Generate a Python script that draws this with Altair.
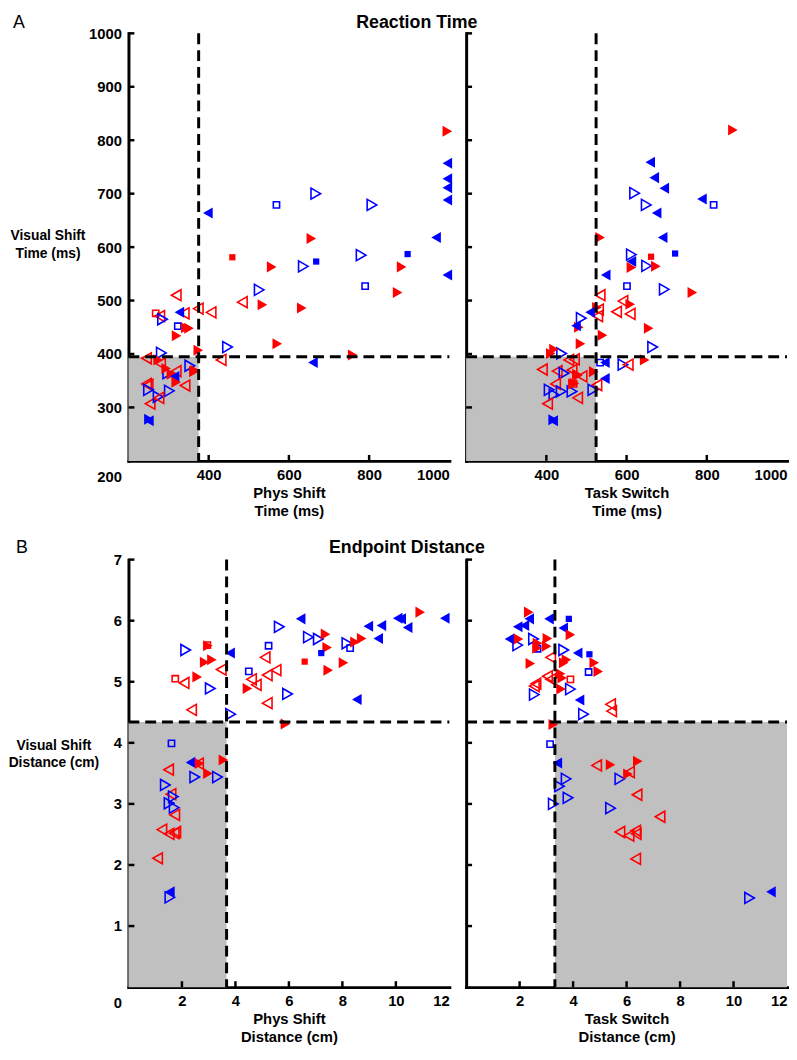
import altair as alt
import pandas as pd

# ---------------- data ----------------
# kind code: colour (R/B), fill (F = filled, O = open), shape (L = left triangle, R = right triangle, S = square)

# Panel A left: Phys Shift Time (x) vs Visual Shift Time (y)
rt_phys_x = [268, 278, 319, 285, 327, 339, 323, 343, 351, 320, 374, 406, 484, 534, 632, 526, 636, 557, 668, 790,
             871, 571, 447, 374, 431, 759, 660, 282, 245, 274, 280, 353, 363, 366, 319, 307, 298, 315, 319, 341,
             245, 249, 250, 302, 254, 274, 276, 251, 251, 398, 569, 667, 807, 656, 967, 896, 780, 881, 459, 995,
             995, 995, 995, 995, 995, 294]
rt_phys_y = [476, 471, 510, 465, 478, 476, 452, 449, 448, 434, 485, 478, 497, 492, 486, 520, 564, 563, 573, 527,
             515, 419, 413, 407, 389, 398, 384, 402, 392, 389, 382, 378, 367, 369, 368, 362, 364, 358, 347, 341,
             344, 342, 333, 331, 307, 320, 318, 275, 278, 664, 679, 700, 679, 616, 618, 587, 585, 563, 581, 817,
             757, 728, 711, 688, 548, 373]
rt_phys_kind = ["ROS", "ROL", "ROL", "BOR", "BFL", "ROL", "BOS", "RFR", "RFR", "RFR", "ROL", "ROL", "ROL", "RFR",
                "RFR", "BOR", "BOR", "RFR", "BFS", "BOS", "RFR", "RFR", "BOR", "RFR", "ROL", "RFR", "BFL", "BOR",
                "ROL", "RFR", "ROL", "BOR", "RFR", "RFR", "ROL", "RFR", "BOR", "BFL", "RFR", "ROL", "ROL", "ROL",
                "BOR", "BOR", "ROL", "BOR", "ROL", "BFL", "BFR", "BFL", "BOS", "BOR", "BOR", "RFR", "BFL", "BFS",
                "BOR", "RFR", "RFS", "RFR", "BFL", "BFL", "BFL", "BFL", "BFL", "RFR"]

# Panel A right: Task Switch Time (x) vs Visual Shift Time (y)
rt_task_x = [865, 659, 669, 694, 620, 649, 788, 817, 675, 534, 690, 612, 661, 721, 612, 612, 650, 673, 548, 601,
             694, 764, 534, 591, 609, 526, 575, 609, 509, 487, 481, 474, 655, 540, 528, 530, 485, 419, 411, 438,
             665, 645, 591, 604, 534, 546, 518, 546, 526, 516, 456, 470, 390, 427, 444, 464, 476, 479, 489, 466,
             470, 423, 407, 419, 437, 464, 478, 403, 417, 417, 468]
rt_task_y = [819, 759, 730, 710, 701, 679, 690, 679, 664, 618, 618, 586, 582, 588, 573, 562, 565, 564, 548, 527,
             521, 515, 510, 499, 493, 487, 479, 475, 478, 467, 450, 453, 448, 435, 471, 483, 419, 409, 401, 401,
             413, 389, 380, 380, 384, 384, 367, 354, 342, 333, 389, 390, 371, 368, 364, 370, 362, 360, 358, 344,
             345, 344, 333, 324, 330, 330, 318, 307, 275, 277, 344]
rt_task_kind = ["RFR", "BFL", "BFL", "BFL", "BOR", "BOR", "BFL", "BOS", "BFL", "RFR", "BFL", "BOR", "RFS", "BFS",
                "BFL", "RFR", "BOR", "RFR", "BFL", "BOS", "BOR", "RFR", "ROL", "ROL", "RFR", "RFR", "ROL", "ROL",
                "BFL", "BOR", "RFR", "BFL", "RFR", "RFR", "ROL", "ROL", "RFR", "RFR", "RFR", "BOR", "BOR", "RFR",
                "BOR", "ROL", "BOS", "BFL", "RFR", "BFL", "ROL", "BOR", "ROL", "ROL", "ROL", "ROL", "BOR", "ROL",
                "RFR", "RFR", "ROL", "RFR", "RFR", "ROL", "BOR", "BOR", "BOR", "BOR", "ROL", "ROL", "BFL", "BFR",
                "ROS"]

# Panel B left: Phys Shift Distance (x) vs Visual Shift Distance (y)
ed_phys_x = [1.75, 2.08, 2.57, 2.14, 2.85, 3.12, 2.97, 2.95, 3.47, 3.06, 2.36, 3.80, 3.82, 4.45, 4.60, 4.50, 4.78,
             5.11, 5.24, 5.19, 5.52, 5.19, 5.64, 5.95, 5.87, 6.44, 6.73, 7.10, 7.37, 7.43, 7.21, 6.59, 7.47, 8.04,
             8.17, 8.29, 8.47, 8.72, 8.97, 9.46, 9.34, 10.07, 10.2, 10.44, 10.91, 11.83, 8.54, 1.61, 2.32, 2.66,
             2.62, 3.55, 2.97, 2.48, 3.33, 1.50, 1.38, 1.59, 1.68, 1.52, 1.71, 1.73, 1.25, 1.52, 1.77, 1.71, 1.09,
             1.55, 1.55]
ed_phys_y = [5.05, 4.98, 5.08, 5.52, 5.32, 5.36, 5.59, 5.60, 5.20, 4.89, 4.54, 5.47, 4.47, 4.89, 5.04, 5.17, 4.95,
             5.40, 5.59, 5.11, 5.19, 4.65, 5.90, 4.80, 4.31, 6.03, 5.73, 5.70, 5.78, 5.56, 5.47, 5.33, 5.19, 5.31,
             5.63, 5.55, 5.65, 5.71, 5.91, 5.92, 5.71, 6.04, 6.03, 5.89, 6.14, 6.04, 4.71, 3.99, 3.68, 3.66, 3.66,
             3.72, 3.50, 3.44, 3.44, 3.56, 3.31, 3.16, 3.12, 3.01, 2.94, 2.82, 2.58, 2.51, 2.54, 2.52, 2.11, 1.56,
             1.47]
ed_phys_kind = ["ROS", "ROL", "RFR", "BOR", "RFR", "RFR", "RFR", "ROS", "ROL", "BOR", "ROL", "BFL", "BOR", "RFR",
                "ROL", "BOS", "ROL", "ROL", "BOS", "ROL", "ROL", "ROL", "BOR", "BOR", "RFR", "BFL", "BOR", "BOR",
                "RFR", "RFR", "BFS", "RFS", "RFR", "RFR", "BOR", "BOS", "RFR", "RFR", "BFL", "BFL", "BFL", "BFL",
                "BFL", "BFL", "RFR", "BFL", "BFL", "BOS", "BFL", "RFR", "ROL", "RFR", "RFR", "BOR", "BOR", "ROL",
                "BOR", "ROL", "BOR", "BOR", "BOR", "ROL", "ROL", "ROL", "ROL", "ROL", "ROL", "BFL", "BOR"]

# Panel B right: Task Switch Distance (x) vs Visual Shift Distance (y)
ed_task_x = [2.34, 2.36, 2.18, 1.93, 3.10, 3.84, 3.63, 3.90, 1.62, 1.96, 1.93, 2.52, 2.67, 2.65, 3.04, 3.01, 2.67,
             3.65, 4.17, 4.61, 4.79, 4.94, 4.58, 2.40, 3.16, 3.75, 3.65, 3.04, 3.16, 3.53, 3.59, 3.90, 2.61, 2.55,
             2.55, 3.55, 3.90, 4.24, 4.39, 5.40, 5.44, 3.26, 3.14, 3.41, 4.88, 5.40, 6.42, 6.11, 6.05, 5.75, 3.74,
             3.49, 3.81, 3.26, 6.39, 5.40, 7.25, 5.75, 6.09, 6.34, 6.36, 6.34, 10.6, 11.4]
ed_task_y = [6.14, 6.03, 5.92, 5.90, 6.03, 6.03, 5.88, 5.77, 5.70, 5.70, 5.60, 5.70, 5.63, 5.55, 5.71, 5.58, 5.54,
             5.52, 5.47, 5.45, 5.31, 5.17, 5.16, 5.30, 5.40, 5.36, 5.31, 5.09, 5.04, 5.13, 5.06, 5.04, 4.97, 4.93,
             4.79, 4.88, 4.88, 4.70, 4.47, 4.63, 4.52, 4.30, 3.98, 3.67, 3.63, 3.64, 3.70, 3.52, 3.49, 3.41, 3.41,
             3.29, 3.10, 3.00, 3.15, 2.93, 2.79, 2.54, 2.48, 2.56, 2.51, 2.10, 1.46, 1.56]
ed_task_kind = ["RFR", "BFL", "BFL", "BFL", "BFL", "BFS", "BFL", "RFR", "BFL", "RFR", "BOR", "BOR", "RFR", "RFR",
                "RFR", "RFR", "BOS", "BOR", "BFL", "BFS", "RFR", "RFR", "BOS", "RFR", "ROL", "RFR", "RFR", "ROL",
                "ROL", "RFR", "RFR", "ROS", "ROL", "ROL", "BOR", "RFR", "BOR", "BFL", "BOR", "ROL", "ROL", "RFR",
                "BOS", "BFL", "ROL", "RFR", "RFR", "ROL", "RFR", "BOR", "BOR", "BOR", "BOR", "BOR", "ROL", "BOR",
                "ROL", "ROL", "ROL", "ROL", "ROL", "ROL", "BOR", "BFL"]

# criterion lines and shaded regions
rt_phys_crit = [375, 395]
rt_task_crit = [524, 395]
ed_phys_crit = [3.67, 4.34]
ed_task_crit = [3.32, 4.34]

rt_dom_x = [200, 1000]
rt_dom_y = [200, 1000]
ed_dom_x = [0, 12]
ed_dom_y = [0, 7]

rt_xlabels = [400, 600, 800, 1000]
rt_ylabels = [200, 300, 400, 500, 600, 700, 800, 900, 1000]
rt_xticks = [400, 600, 800]
rt_yticks = [300, 400, 500, 600, 700, 800, 900, 1000]
ed_xlabels = [2, 4, 6, 8, 10, 12]
ed_ylabels = [0, 1, 2, 3, 4, 5, 6, 7]
ed_xticks = [2, 4, 6, 8, 10]
ed_yticks = [1, 2, 3, 4, 5, 6, 7]

# ---------------- styling ----------------
FONT = "Liberation Sans"
W, H = 325, 433
RED, BLUE = "#ff0000", "#0000ff"
SHAPES = {"L": "triangle-left", "R": "triangle-right", "S": "square"}


def point_frame(xs, ys, kinds):
    return pd.DataFrame({
        "x": xs,
        "y": ys,
        "col": [RED if k[0] == "R" else BLUE for k in kinds],
        "fill": [k[1] for k in kinds],
        "shp": [SHAPES[k[2]] for k in kinds],
        "sz": [40 if k[2] == "S" else 125 for k in kinds],
    })


def panel(xs, ys, kinds, xdom, ydom, crit, shade_right, xlabels, ylabels, xticks, yticks,
          xtitle, ytitle, left, letter=None, letter_x=-111, heading=None, heading_x=290,
          head_y=-10, ytitle_x=-82, ytitle_y=None):
    sx = alt.Scale(domain=xdom, nice=False, zero=False)
    sy = alt.Scale(domain=ydom, nice=False, zero=False)
    xaxis = alt.Axis(values=xlabels, title=xtitle, ticks=False, grid=False, format="d",
                     domainWidth=3, domainColor="black", domainCap="square",
                     labelFont=FONT, labelFontSize=15, labelFontWeight="bold", labelColor="black",
                     labelPadding=7, labelOverlap=False,
                     titleFont=FONT, titleFontSize=15, titleFontWeight="bold", titleColor="black",
                     titlePadding=3, titleLineHeight=18)
    if left:
        yaxis = alt.Axis(values=ylabels, title=ytitle, ticks=False, grid=False, format="d",
                         domainWidth=3, domainColor="black", domainCap="square",
                         labelFont=FONT, labelFontSize=15, labelFontWeight="bold", labelColor="black",
                         labelPadding=7, labelOverlap=False,
                         labelOffset={"condition": {"test": f"datum.value == {ydom[0]}", "value": 16}, "value": 0},
                         titleFont=FONT, titleFontSize=14, titleFontWeight="bold", titleColor="black",
                         titleAngle=0, titleAlign="center", titleBaseline="middle",
                         titleX=ytitle_x, titleY=ytitle_y, titleLineHeight=18)
    else:
        yaxis = alt.Axis(labels=False, ticks=False, grid=False, title=None,
                         domainWidth=3, domainColor="black", domainCap="square")

    def X(f):
        return alt.X(f, type="quantitative", scale=sx, axis=xaxis)

    def Y(f):
        return alt.Y(f, type="quantitative", scale=sy, axis=yaxis)

    if shade_right:
        shade = pd.DataFrame({"x1": [crit[0]], "x2": [xdom[1]], "y1": [ydom[0]], "y2": [crit[1]]})
    else:
        shade = pd.DataFrame({"x1": [xdom[0]], "x2": [crit[0]], "y1": [ydom[0]], "y2": [crit[1]]})

    rect = alt.Chart(shade).mark_rect(color="#c0c0c0").encode(
        x=X("x1"), x2=alt.X2("x2"), y=Y("y1"), y2=alt.Y2("y2"))

    vline = alt.Chart(pd.DataFrame({"v": [crit[0]]})).mark_rule(
        color="black", strokeWidth=3, strokeDash=[11, 6]).encode(
        x=X("v"), y=alt.value(0), y2=alt.value(H))
    hline = alt.Chart(pd.DataFrame({"v": [crit[1]]})).mark_rule(
        color="black", strokeWidth=3, strokeDash=[11, 6]).encode(
        y=Y("v"), x=alt.value(0), x2=alt.value(W))

    pts = point_frame(xs, ys, kinds)
    enc = dict(x=X("x"), y=Y("y"),
               color=alt.Color("col:N", scale=None),
               shape=alt.Shape("shp:N", scale=None),
               size=alt.Size("sz:Q", scale=None))
    open_pts = alt.Chart(pts).transform_filter("datum.fill == 'O'").mark_point(
        filled=False, opacity=1, strokeWidth=1.6).encode(**enc)
    fill_pts = alt.Chart(pts).transform_filter("datum.fill == 'F'").mark_point(
        filled=True, opacity=1, strokeWidth=0).encode(**enc)

    yt = alt.Chart(pd.DataFrame({"v": yticks})).mark_rule(color="black", strokeWidth=2.5).encode(
        y=Y("v"), x=alt.value(0), x2=alt.value(6))
    xt = alt.Chart(pd.DataFrame({"v": xticks})).mark_rule(color="black", strokeWidth=2.5).encode(
        x=X("v"), y=alt.value(H), y2=alt.value(H - 6))

    layers = [rect, open_pts, fill_pts, vline, hline, yt, xt]
    if letter is not None:
        layers.append(alt.Chart(pd.DataFrame({"t": [letter]})).mark_text(
            font=FONT, fontSize=18, color="black", align="center", baseline="middle").encode(
            text="t:N", x=alt.value(letter_x), y=alt.value(head_y)))
    if heading is not None:
        layers.append(alt.Chart(pd.DataFrame({"t": [heading]})).mark_text(
            font=FONT, fontSize=18, fontWeight="bold", color="black", align="center",
            baseline="middle").encode(
            text="t:N", x=alt.value(heading_x), y=alt.value(head_y)))
    return alt.layer(*layers).properties(width=W, height=H)


rt_left = panel(rt_phys_x, rt_phys_y, rt_phys_kind, rt_dom_x, rt_dom_y, rt_phys_crit, False,
                rt_xlabels, rt_ylabels, rt_xticks, rt_yticks,
                ["Phys Shift", "Time (ms)"], ["Visual Shift", "Time (ms)"], True,
                letter="A", letter_x=-111, heading="Reaction Time", heading_x=292, head_y=-10,
                ytitle_x=-82, ytitle_y=205)
rt_right = panel(rt_task_x, rt_task_y, rt_task_kind, rt_dom_x, rt_dom_y, rt_task_crit, False,
                 rt_xlabels, rt_ylabels, rt_xticks, rt_yticks,
                 ["Task Switch", "Time (ms)"], None, False)
ed_left = panel(ed_phys_x, ed_phys_y, ed_phys_kind, ed_dom_x, ed_dom_y, ed_phys_crit, False,
                ed_xlabels, ed_ylabels, ed_xticks, ed_yticks,
                ["Phys Shift", "Distance (cm)"], ["Visual Shift", "Distance (cm)"], True,
                letter="B", letter_x=-108, heading="Endpoint Distance", heading_x=282, head_y=-12,
                ytitle_x=-76, ytitle_y=188)
ed_right = panel(ed_task_x, ed_task_y, ed_task_kind, ed_dom_x, ed_dom_y, ed_task_crit, True,
                 ed_xlabels, ed_ylabels, ed_xticks, ed_yticks,
                 ["Task Switch", "Distance (cm)"], None, False)

chart = alt.concat(rt_left, rt_right, ed_left, ed_right, columns=2,
                   spacing={"row": 100, "column": 17}, bounds="flush").properties(
    padding={"left": 0, "top": 0, "right": 0, "bottom": 0}, background="white"
).configure_view(stroke=None)

chart.save("out.html", embed_options={"renderer": "svg", "actions": False})
